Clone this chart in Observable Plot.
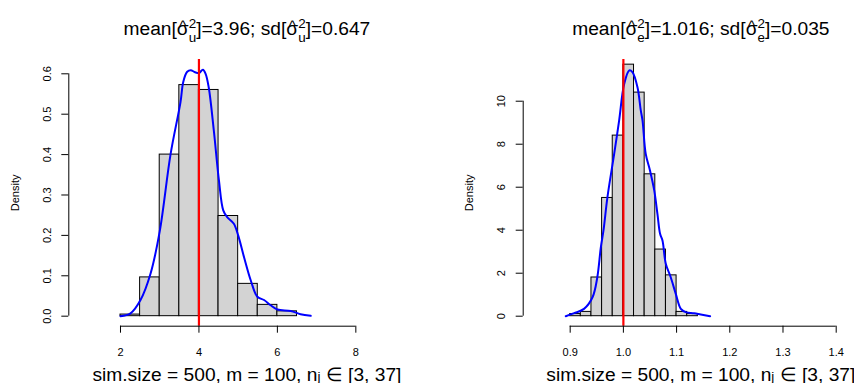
<!DOCTYPE html>
<html><head><meta charset="utf-8">
<script src="https://cdn.jsdelivr.net/npm/d3@7"></script>
<script src="https://cdn.jsdelivr.net/npm/@observablehq/plot@0.6"></script>
<style>
html,body{margin:0;padding:0;background:#fff;}
#wrap{position:relative;width:854px;height:383px;overflow:hidden;background:#fff;}
#wrap svg{position:absolute;top:0;}
</style></head><body><div id="wrap"></div>
<script>
const FONT = "'Liberation Sans', Arial, Helvetica, sans-serif";

// ---- left panel: sigma_u^2 ----
const uBreaks = [2, 2.5, 3, 3.5, 4, 4.5, 5, 5.5, 6, 6.5];
const uDensity = [0.004, 0.096, 0.400, 0.572, 0.560, 0.248, 0.080, 0.028, 0.012];
const uKdeX = [2.0, 2.255, 2.51, 2.765, 3.0, 3.275, 3.53, 3.6, 3.7, 3.79, 3.9, 4.0, 4.1, 4.17, 4.25, 4.38, 4.51, 4.62, 4.72, 4.89, 5.0, 5.15, 5.32, 5.49, 5.66, 5.83, 6.0, 6.34, 6.59, 6.85];
const uKdeY = [0.0, 0.007, 0.04, 0.105, 0.21, 0.40, 0.53, 0.58, 0.605, 0.609, 0.604, 0.602, 0.61, 0.60, 0.566, 0.459, 0.336, 0.262, 0.245, 0.229, 0.20, 0.146, 0.089, 0.048, 0.040, 0.027, 0.0165, 0.013, 0.005, 0.001];
const uTrue = [4];
const uXTicks = [2, 4, 6, 8];
const uYTicks = [0, 0.1, 0.2, 0.3, 0.4, 0.5, 0.6];
const uTitle = ["mean[", {base: "σ", hat: true, sup: "2", sub: "u"}, "]=3.96; sd[", {base: "σ", hat: true, sup: "2", sub: "u"}, "]=0.647"];

// ---- right panel: sigma_e^2 ----
const eBreaks = [0.90, 0.92, 0.94, 0.96, 0.98, 1.00, 1.02, 1.04, 1.06, 1.08, 1.10, 1.12, 1.14];
const eDensity = [0.1, 0.2, 1.8, 5.5, 8.4, 11.7, 10.4, 6.6, 3.1, 1.9, 0.2, 0.1];
const eKdeX = [0.8917, 0.9075, 0.926, 0.942, 0.951, 0.9576, 0.9626, 0.970, 0.9827, 0.992, 1.0015, 1.011, 1.017, 1.0265, 1.0327, 1.036, 1.042, 1.050, 1.058, 1.064, 1.069, 1.0735, 1.0797, 1.089, 1.0985, 1.108, 1.117, 1.133, 1.1455, 1.163];
const eKdeY = [0, 0.14, 0.34, 0.88, 1.81, 3.2, 3.99, 5.53, 7.55, 9.1, 10.8, 11.43, 11.35, 10.65, 9.57, 9.1, 7.55, 6.78, 5.85, 4.76, 3.83, 3.52, 2.44, 1.81, 1.04, 0.34, 0.19, 0.14, 0.08, 0];
const eTrue = [1.0];
const eXTicks = [0.9, 1.0, 1.1, 1.2, 1.3, 1.4];
const eYTicks = [0, 2, 4, 6, 8, 10];
const eTitle = ["mean[", {base: "σ", hat: true, sup: "2", sub: "e"}, "]=1.016; sd[", {base: "σ", hat: true, sup: "2", sub: "e"}, "]=0.035"];

const subLabel = ["sim.size = 500, m = 100, n", {sub: "j"}, " ∈ [3, 37]"];
const yLabel = "Density";

// one <text> per label, centred by the browser; tspans for sub/superscripts
function mathLabel(svg, parts, cx, base, size) {
  const small = size * 0.7;
  const root = d3.select(svg);
  const t = root.append("text").attr("x", cx).attr("y", base)
    .attr("font-family", FONT).attr("font-size", size)
    .attr("text-anchor", "middle").attr("fill", "black");
  let shift = 0;
  const hats = [];
  for (const p of parts) {
    if (typeof p === "string") { t.append("tspan").attr("dy", -shift).text(p); shift = 0; continue; }
    if (p.base) {
      const s = t.append("tspan").attr("dy", -shift).text(p.base);
      shift = 0;
      if (p.hat) hats.push(s.node());
    }
    if (p.sup && p.sub) {
      const up = -size * 0.38, down = size * 0.35;
      t.append("tspan").attr("dy", up - shift).attr("font-size", small).text(p.sup);
      t.append("tspan").attr("dx", -0.556 * small).attr("dy", down - up).attr("font-size", small).text(p.sub);
      shift = down;
    } else if (p.sub) {
      const down = 0;
      t.append("tspan").attr("dy", down - shift).attr("font-size", small).text(p.sub);
      shift = down;
    }
  }
  for (const s of hats) {
    const b = s.getBBox();
    root.append("text").attr("x", b.x + b.width / 2).attr("y", base - size * 0.21)
      .attr("font-family", FONT).attr("font-size", size * 0.8)
      .attr("text-anchor", "middle").attr("fill", "black").text("^");
  }
}

function panel(cfg) {
  const bins = cfg.breaks.slice(0, -1).map((b, i) => ({x1: b, x2: cfg.breaks[i + 1], y: cfg.density[i]}));
  const kde = cfg.kdeX.map((x, i) => ({x, y: cfg.kdeY[i]}));
  const svg = Plot.plot({
    width: cfg.width, height: 383,
    marginTop: 59, marginBottom: 57.3, marginLeft: cfg.marginLeft, marginRight: cfg.marginRight,
    x: {domain: cfg.xDomain},
    y: {domain: cfg.yDomain},
    style: {fontFamily: FONT, fontSize: "11px", color: "black", background: "white", overflow: "visible"},
    marks: [
      Plot.rectY(bins, {x1: "x1", x2: "x2", y: "y", fill: "#D3D3D3", stroke: "black", strokeWidth: 1}),
      Plot.line(kde, {x: "x", y: "y", stroke: "#0000FF", strokeWidth: 2, curve: "catmull-rom"}),
      Plot.ruleX(cfg.trueVal, {stroke: "#FF0000", strokeWidth: 2.2}),
      Plot.ruleY([cfg.yDomain[0]], {x1: cfg.xTicks[0], x2: cfg.xTicks[cfg.xTicks.length - 1], stroke: "black"}),
      Plot.ruleX([cfg.xDomain[0]], {y1: cfg.yTicks[0], y2: cfg.yTicks[cfg.yTicks.length - 1], stroke: "black"}),
      Plot.axisX({ticks: cfg.xTicks, tickSize: 7, tickPadding: 15, tickFormat: cfg.xFmt, fontSize: 11, label: null}),
      Plot.axisY({ticks: cfg.yTicks, tickSize: 7, tickFormat: () => "", label: null}),
      Plot.text(cfg.yTicks, {y: d => d, text: cfg.yFmt, frameAnchor: "left", dx: -18.3, rotate: -90, textAnchor: "middle", lineAnchor: "bottom", fontSize: 11}),
      Plot.text([yLabel], {text: d => d, frameAnchor: "left", dx: -50, rotate: -90, textAnchor: "middle", lineAnchor: "bottom", fontSize: 11})
    ]
  });
  svg.style.left = cfg.left + "px";
  document.getElementById("wrap").appendChild(svg);
  const cx = (cfg.marginLeft + cfg.width - cfg.marginRight) / 2;
  mathLabel(svg, cfg.title, cx, 35, 19.2);
  mathLabel(svg, subLabel, cx, 380.5, 19.2);
}

panel({
  left: 0, width: 427, marginLeft: 68.3, marginRight: 1.5,
  xDomain: [0.682, 9.789], yDomain: [-0.0248, 0.6354],
  breaks: uBreaks, density: uDensity, kdeX: uKdeX, kdeY: uKdeY, trueVal: uTrue,
  xTicks: uXTicks, yTicks: uYTicks, xFmt: d3.format("d"), yFmt: d3.format(".1f"), title: uTitle
});
panel({
  left: 427, width: 480, marginLeft: 95.7, marginRight: 28,
  xDomain: [0.8117, 1.4814], yDomain: [-0.465, 11.94],
  breaks: eBreaks, density: eDensity, kdeX: eKdeX, kdeY: eKdeY, trueVal: eTrue,
  xTicks: eXTicks, yTicks: eYTicks, xFmt: d3.format(".1f"), yFmt: d3.format("d"), title: eTitle
});
</script></body></html>
